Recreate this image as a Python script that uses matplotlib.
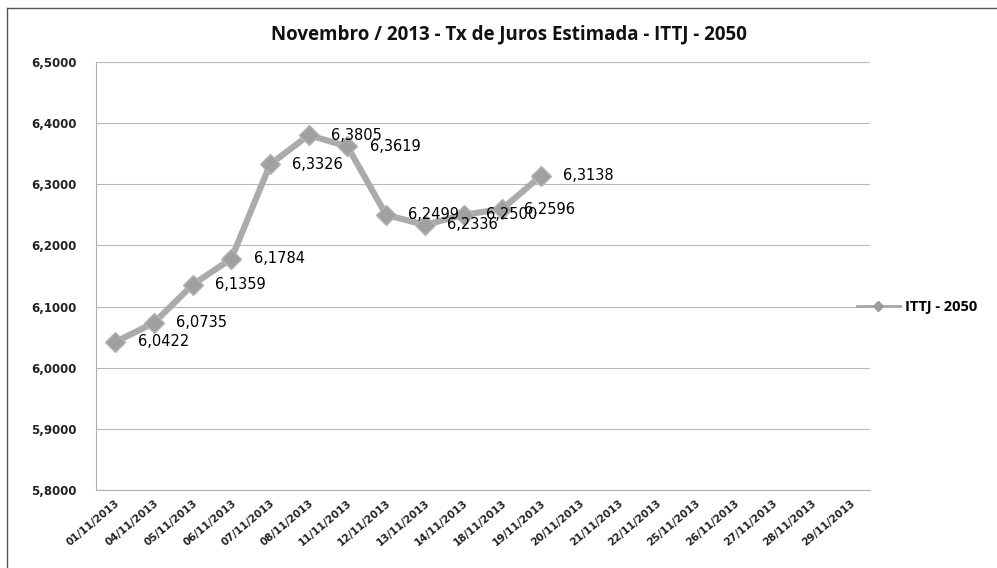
import matplotlib
matplotlib.use("Agg")
import matplotlib.pyplot as plt
from matplotlib.lines import Line2D
import numpy as np

# dados
datas = ['01/11/2013', '04/11/2013', '05/11/2013', '06/11/2013', '07/11/2013',
         '08/11/2013', '11/11/2013', '12/11/2013', '13/11/2013', '14/11/2013',
         '18/11/2013', '19/11/2013', '20/11/2013', '21/11/2013', '22/11/2013',
         '25/11/2013', '26/11/2013', '27/11/2013', '28/11/2013', '29/11/2013']
ittj = [6.0422, 6.0735, 6.1359, 6.1784, 6.3326, 6.3805, 6.3619, 6.2499,
        6.2336, 6.2500, 6.2596, 6.3138]
y_ticks = [5.8, 5.9, 6.0, 6.1, 6.2, 6.3, 6.4, 6.5]

valores = ittj + [np.nan] * (len(datas) - len(ittj))
x = np.arange(len(datas))

fig = plt.figure(figsize=(9.97, 5.68), dpi=100)
ax = fig.add_axes([0.0963, 0.1373, 0.776, 0.7535])

ax.plot(x, valores, color='#ababab', lw=4.5, marker='D', markersize=10,
        markerfacecolor='#a0a0a0', markeredgecolor='#b4b4b4', zorder=3)

for xi, v in zip(x, ittj):
    ax.annotate(('%.4f' % v).replace('.', ','), (xi, v), xytext=(16, 0),
                textcoords='offset points', ha='left', va='center',
                fontsize=10.5, color='#000000', zorder=4)

ax.set_xlim(-0.5, len(datas) - 0.5)
ax.set_ylim(5.8, 6.5)
ax.set_yticks(y_ticks)
ax.set_yticklabels([('%.4f' % t).replace('.', ',') for t in y_ticks],
                   fontsize=8.5, fontweight='bold', color='#222222')
ax.set_xticks(x)
ax.set_xticklabels(datas, rotation=40, ha='right', rotation_mode='anchor',
                   fontsize=7.5, fontweight='bold', color='#222222')
ax.tick_params(axis='both', length=0)
ax.tick_params(axis='y', pad=14)
ax.tick_params(axis='x', pad=6)

ax.grid(axis='y', color='#b8b8b8', lw=0.8)
ax.set_axisbelow(True)
for s in ['top', 'right']:
    ax.spines[s].set_visible(False)
for s in ['left', 'bottom']:
    ax.spines[s].set_color('#b0b0b0')

fig.text(0.51, 0.94, 'Novembro / 2013 - Tx de Juros Estimada - ITTJ - 2050',
         ha='center', va='center', fontsize=13.5, fontweight='bold',
         family='Open Sans', color='#111111')

# legenda
h = Line2D([], [], color='#a8a8a8', lw=2, marker='D', markersize=5,
           markerfacecolor='#9c9c9c', markeredgecolor='#9c9c9c')
fig.legend([h], ['ITTJ - 2050'], loc='center left',
           bbox_to_anchor=(0.846, 0.459), frameon=False, handlelength=3.0,
           handletextpad=0.3, prop={'family': 'Open Sans', 'weight': 'bold',
                                    'size': 10.5})

# moldura do grafico
fig.add_artist(Line2D([7 / 997, 1.0], [1 - 8 / 568, 1 - 8 / 568],
                      transform=fig.transFigure, color='#555555', lw=1))
fig.add_artist(Line2D([7 / 997, 7 / 997], [0.0, 1 - 8 / 568],
                      transform=fig.transFigure, color='#555555', lw=1))

fig.savefig('out.png', dpi=100)
